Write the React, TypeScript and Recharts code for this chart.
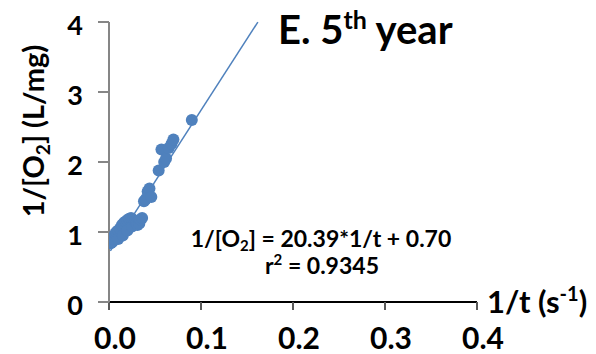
import React from "react";
import { ScatterChart, Scatter, XAxis, YAxis, ReferenceLine } from "recharts";

const xValues = [0.002, 0.003, 0.004, 0.005, 0.006, 0.007, 0.008, 0.010, 0.010, 0.012, 0.014, 0.015, 0.016, 0.018, 0.020, 0.020, 0.022, 0.024, 0.025, 0.026, 0.028, 0.030, 0.031, 0.033, 0.034, 0.036, 0.038, 0.040, 0.042, 0.044, 0.046, 0.054, 0.057, 0.060, 0.062, 0.065, 0.068, 0.070, 0.090];
const yValues = [0.84, 0.88, 0.86, 0.90, 0.95, 0.98, 1.00, 1.02, 0.90, 1.05, 1.10, 0.95, 1.13, 1.15, 1.17, 1.02, 1.19, 1.20, 1.08, 1.18, 1.15, 1.13, 1.10, 1.12, 1.18, 1.20, 1.44, 1.47, 1.58, 1.62, 1.50, 1.88, 2.18, 2.00, 2.05, 2.20, 2.26, 2.32, 2.60];
const xTicks = [0, 0.1, 0.2, 0.3, 0.4];
const yTicks = [0, 1, 2, 3, 4];
const trendSlope = 20.39;
const trendIntercept = 0.70;
const trendStartX = 0.0015;
const trendEndX = 0.1618;

const points = xValues.map((x, i) => ({ x, y: yValues[i] }));

const FONT = "Lato, 'Open Sans', sans-serif";
const BLUE = "#4F81BD";

const XTick = (props: any) => {
  const { x, y, payload } = props;
  return (
    <text x={x + 6} y={y + 37} textAnchor="middle" fontFamily={FONT} fontWeight={700} fontSize={30} fill="#000">
      {payload.value.toFixed(1)}
    </text>
  );
};

const YTick = (props: any) => {
  const { y, payload } = props;
  return (
    <text x={83} y={y + 13} textAnchor="end" fontFamily={FONT} fontWeight={700} fontSize={27} fill="#000">
      {payload.value}
    </text>
  );
};

const Dot = (props: any) => {
  const { cx, cy } = props;
  return <circle cx={cx} cy={cy} r={6} fill={BLUE} />;
};

export default function App() {
  return (
    <div style={{ position: "absolute", left: 0, top: 0, width: 596, height: 354, background: "#fff" }}>
      <ScatterChart width={596} height={354} margin={{ top: 22, right: 119, bottom: 0, left: 0 }}>
        <XAxis
          type="number"
          dataKey="x"
          domain={[0, 0.4]}
          ticks={xTicks}
          height={52}
          stroke="#000"
          axisLine={{ stroke: "#000", strokeWidth: 2 }}
          tickLine={{ stroke: "#595959", strokeWidth: 2 }}
          tickSize={8}
          tick={<XTick />}
          allowDataOverflow
        />
        <YAxis
          type="number"
          dataKey="y"
          domain={[0, 4]}
          ticks={yTicks}
          width={109}
          axisLine={{ stroke: "#868686", strokeWidth: 2 }}
          tickLine={{ stroke: "#868686", strokeWidth: 2 }}
          tickSize={11}
          tick={<YTick />}
          allowDataOverflow
        />
        <ReferenceLine
          segment={[
            { x: trendStartX, y: trendIntercept + trendSlope * trendStartX },
            { x: trendEndX, y: trendIntercept + trendSlope * trendEndX },
          ]}
          stroke={BLUE}
          strokeWidth={1.5}
          ifOverflow="visible"
        />
        <Scatter data={points} fill={BLUE} shape={<Dot />} isAnimationActive={false} />
      </ScatterChart>
      <svg width={596} height={354} style={{ position: "absolute", left: 0, top: 0, pointerEvents: "none" }}>
        <text x={278} y={44} fontFamily={FONT} fontWeight={700} fontSize={40} fill="#000">
          E. 5<tspan fontSize={25} dy={-15}>th</tspan>
          <tspan dy={15}> year</tspan>
        </text>
        <text x={321} y={247} textAnchor="middle" fontFamily={FONT} fontWeight={700} fontSize={23} fill="#000">
          1/[O<tspan fontSize={15} dy={4}>2</tspan>
          <tspan dy={-4}>] = 20.39*1/t + 0.70</tspan>
        </text>
        <text x={322} y={274} textAnchor="middle" fontFamily={FONT} fontWeight={700} fontSize={23} fill="#000">
          r<tspan fontSize={15} dy={-9}>2</tspan>
          <tspan dy={9}> = 0.9345</tspan>
        </text>
        <text x={487} y={313} fontFamily={FONT} fontWeight={700} fontSize={31} fill="#000">
          1/t (s<tspan fontSize={20} dy={-12}>-1</tspan>
          <tspan dy={12}>)</tspan>
        </text>
        <text
          transform="translate(44,131) rotate(-90)"
          textAnchor="middle"
          fontFamily={FONT}
          fontWeight={700}
          fontSize={29}
          fill="#000"
        >
          1/[O<tspan fontSize={19} dy={6}>2</tspan>
          <tspan dy={-6}>] (L/mg)</tspan>
        </text>
      </svg>
    </div>
  );
}
